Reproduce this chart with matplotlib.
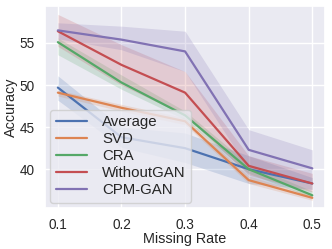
import matplotlib
matplotlib.use('Agg')
import matplotlib.pyplot as plt
import seaborn as sns
import numpy as np

sns.set_theme(style='darkgrid')
plt.rcParams['font.family'] = ['Liberation Sans', 'DejaVu Sans']

rates = [0.1, 0.2, 0.3, 0.4, 0.5]
methods = ['Average', 'SVD', 'CRA', 'WithoutGAN', 'CPM-GAN']

# mean accuracy per method
avg_mean = [49.7, 43.8, 42.5, 40.0, 38.3]
svd_mean = [49.1, 47.3, 45.7, 38.7, 36.6]
cra_mean = [55.1, 50.3, 46.4, 40.0, 36.9]
wog_mean = [56.4, 52.4, 49.1, 40.4, 38.3]
cpm_mean = [56.5, 55.4, 54.0, 42.3, 40.1]

# confidence band (low, high)
avg_lo = [48.2, 42.6, 40.8, 38.3, 37.6]
avg_hi = [51.1, 45.0, 44.3, 41.6, 39.0]
svd_lo = [48.7, 46.9, 45.3, 38.3, 36.3]
svd_hi = [49.4, 47.7, 46.1, 39.2, 36.9]
cra_lo = [53.6, 49.5, 45.9, 39.5, 36.6]
cra_hi = [55.6, 51.2, 46.9, 40.6, 37.4]
wog_lo = [54.6, 50.0, 46.4, 39.3, 37.3]
wog_hi = [58.4, 54.8, 51.6, 41.6, 39.5]
cpm_lo = [55.5, 54.2, 51.6, 40.0, 38.5]
cpm_hi = [57.4, 57.0, 56.4, 44.7, 42.3]

means = [avg_mean, svd_mean, cra_mean, wog_mean, cpm_mean]
lows = [avg_lo, svd_lo, cra_lo, wog_lo, cpm_lo]
highs = [avg_hi, svd_hi, cra_hi, wog_hi, cpm_hi]
colors = sns.color_palette('deep')

fig = plt.figure(figsize=(3.32, 2.49), dpi=100)
ax = fig.add_axes([0.136, 0.165, 0.843, 0.811])

for name, m, lo, hi, c in zip(methods, means, lows, highs, colors):
    ax.fill_between(rates, lo, hi, color=c, alpha=0.2, lw=0)
    ax.plot(rates, m, color=c, lw=1.6, label=name)

ax.set_xticks(rates)
ax.set_yticks([40, 45, 50, 55])
ax.set_ylim(35.4, 59.4)
ax.tick_params(labelsize=9.8, pad=1.5)
ax.set_xlabel('Missing Rate', fontsize=10.4, labelpad=0)
ax.set_ylabel('Accuracy', fontsize=10.4, labelpad=1)
ax.legend(loc='lower left', fontsize=10.8, handlelength=2.1,
          handletextpad=1.0, borderaxespad=0.35, labelspacing=0.2,
          borderpad=0.35)

fig.savefig('out.png', dpi=100)
